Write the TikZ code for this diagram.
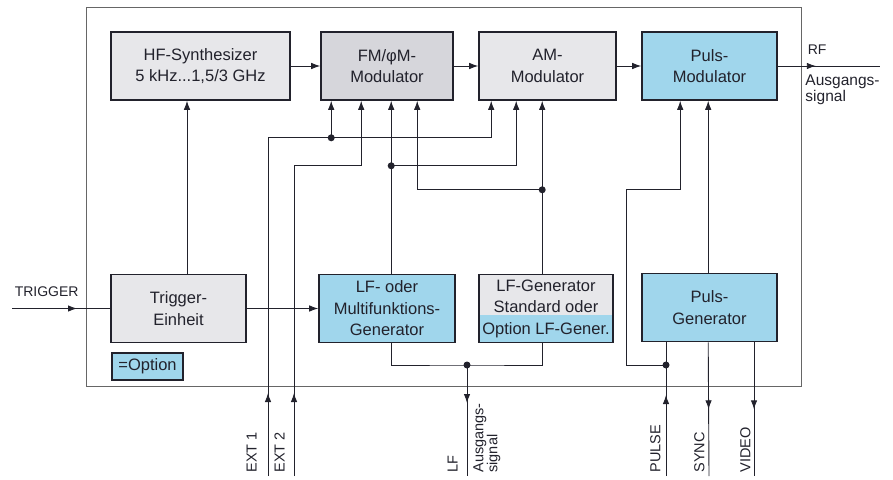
\documentclass[tikz,border=0pt]{standalone}
\usepackage{fontspec}
\setmainfont{Liberation Sans}
\usetikzlibrary{arrows.meta,decorations.markings}
\definecolor{optblue}{RGB}{160,214,236}
\definecolor{stdgrey}{RGB}{231,231,234}
\definecolor{fmgrey}{RGB}{214,214,219}
\definecolor{ink}{RGB}{34,34,44}
\tikzset{
  blk/.style={draw=ink, line width=1.6pt, fill=stdgrey, minimum width=#1, minimum height=68pt,
    inner sep=0pt, align=center, font=\fontsize{16.5}{21.5}\selectfont},
  blk/.default=135pt,
  optblk/.style={blk=#1, fill=optblue},
  optblk/.default=135pt,
  sig/.style={-{Latex[length=9pt,width=6.5pt]}},
  midarr/.style={postaction={decorate}, decoration={markings,
    mark=at position #1 with {\arrow{Latex[length=9pt,width=6.5pt]}}}},
  pinlbl/.style={rotate=90, font=\fontsize{14.5}{14}\selectfont, inner sep=1pt, align=left},
}
\begin{document}
\begin{tikzpicture}[x=1pt, y=-1pt, line width=0.9pt, color=ink]
    \useasboundingbox (0,0) rectangle (893,479);
    \draw [gray!80!black, line width=0.8pt] (86,7) rectangle (801,386);
    % blocks
    \node [blk=179pt] (hf) at (200.5,66) {HF-Synthesizer\\5 kHz...1,5/3 GHz};
    \node [blk=132pt, fill=fmgrey] (fm) at (387,66) {FM/φM-\\Modulator};
    \node [blk=137pt] (am) at (547.5,66) {AM-\\Modulator};
    \node [optblk=135pt] (pm) at (709.5,66) {Puls-\\Modulator};
    \node [blk=135pt] (trig) at (178.5,308.5) {Trigger-\\Einheit};
    \node [optblk=136pt] (lfo) at (387,308.5) {LF- oder\\Multifunktions-\\Generator};
    \node [blk=134pt, path picture={\fill [optblue] (path picture bounding box.south west)
      rectangle ([yshift=28pt]path picture bounding box.south east);}]
      (lfg) at (546,308.5) {LF-Generator\\Standard oder\\Option LF-Gener.};
    \node [optblk=135pt] (pg) at (709.5,307.5) {Puls-\\Generator};
    \node [optblk=71pt, minimum height=27pt, line width=1.2pt] (opt) at (147.5,366.5) {=Option};
    % inputs and junctions
    \coordinate (fm1) at ([xshift=11pt]fm.south west);
    \coordinate (fm2) at ([xshift=41pt]fm.south west);
    \coordinate (fm3) at ([xshift=71pt]fm.south west);
    \coordinate (fm4) at ([xshift=97pt]fm.south west);
    \coordinate (am1) at ([xshift=13pt]am.south west);
    \coordinate (am2) at ([xshift=38pt]am.south west);
    \coordinate (am3) at ([xshift=64pt]am.south west);
    \coordinate (pm1) at ([xshift=39pt]pm.south west);
    \coordinate (pm2) at ([xshift=67pt]pm.south west);
    \path (fm1) ++(0,37) coordinate (d1);
    \path (fm2) ++(0,65) coordinate (k2);
    \path (fm3) ++(0,65) coordinate (d2);
    \path (am3) ++(0,89) coordinate (d3);
    \coordinate (d4) at (467,365);
    \coordinate (d5) at (666,365);
    \coordinate (pk) at (626,189);
    \coordinate (trigin) at (12,308.5);
    \coordinate (rfout) at (880,66);
    \coordinate (ext1) at (268,476);
    \coordinate (ext2) at (294,476);
    \coordinate (lfout) at (467,476);
    \coordinate (pulsein) at (666,476);
    \coordinate (syncout) at (709,476);
    \coordinate (vidout) at (754,476);
    % connectors
    \draw [midarr=65pt] (trigin) -- (trig.west);
    \draw [sig] (trig.east) -- (lfo.west);
    \draw [sig] ([xshift=8.5pt]trig.north) -- ([xshift=8.5pt]trig.north |- hf.south);
    \draw [sig] (hf.east) -- (fm.west);
    \draw [sig] (fm.east) -- (am.west);
    \draw [sig] (am.east) -- (pm.west);
    \draw [midarr=38pt] (pm.east) -- (rfout);
    \draw [sig,midarr=83pt] (ext1) |- (d1) -| (am1);
    \draw [sig] (d1) -- (fm1);
    \draw [sig,midarr=83pt] (ext2) |- (k2) -- (fm2);
    \draw [sig] (fm3 |- lfo.north) -- (fm3);
    \draw [sig] (d2) -| (am2);
    \draw [sig] (am3 |- lfg.north) -- (am3);
    \draw [sig] (d3) -| (fm4);
    \draw (fm3 |- lfo.south) |- (d4) -| (am3 |- lfg.south);
    \draw [midarr=38pt] (d4) -- (lfout);
    \draw [midarr=81pt] (pulsein) -- (pulsein |- pg.south);
    \draw [sig] (d5) -| (pk) -| (pm1);
    \draw [sig] (pm2 |- pg.north) -- (pm2);
    \draw [midarr=67pt] (pm2 |- pg.south) -- (syncout);
    \draw [midarr=67pt] (vidout |- pg.south) -- (vidout);
    \foreach \d in {d1,d2,d3,d4,d5}
        \fill (\d) circle (3.5pt);
    % labels
    \node [anchor=west, font=\fontsize{14}{16}\selectfont] (trglbl) at (11,292) {TRIGGER};
    \node [anchor=west, font=\fontsize{14}{16}\selectfont] (rflbl) at (804,50) {RF};
    \node [anchor=north west, align=left, inner sep=1pt, font=\fontsize{15.5}{16}\selectfont]
      (rfsig) at (804,73) {Ausgangs-\\signal};
    \node [pinlbl, anchor=south west] (ext1lbl) at (258,474) {EXT 1};
    \node [pinlbl, anchor=south west] (ext2lbl) at (286,474) {EXT 2};
    \node [pinlbl, anchor=south west] (lflbl) at (459,474) {LF};
    \node [pinlbl, anchor=north west] (lfsig) at (472,474) {Ausgangs-\\signal};
    \node [pinlbl, anchor=south west] (pulselbl) at (662,474) {PULSE};
    \node [pinlbl, anchor=south west] (synclbl) at (706,474) {SYNC};
    \node [pinlbl, anchor=south west] (vidlbl) at (752,474) {VIDEO};
\end{tikzpicture}
\end{document}
